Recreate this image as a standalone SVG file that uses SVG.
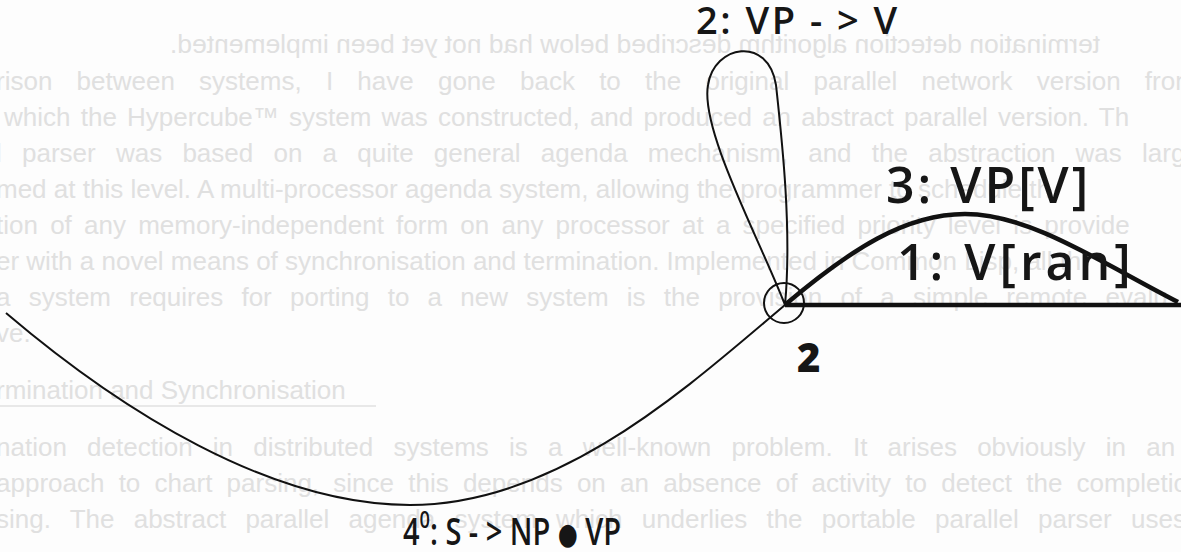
<svg xmlns="http://www.w3.org/2000/svg" width="1181" height="552" viewBox="0 0 1181 552">
<style>
.bg{font-family:"Liberation Sans",Arial,sans-serif;font-size:26px;fill:#e0e0e0}
.lbl{font-family:"Open Sans","Noto Sans",sans-serif;fill:#161616;font-weight:600}
.thin{fill:none;stroke:#111;stroke-width:2}
.thick{fill:none;stroke:#111;stroke-width:4.5;stroke-linejoin:round}
</style>
<rect width="1181" height="552" fill="#fdfdfd"/>
<g id="background-text">
<text class="bg" transform="scale(-1,1)" x="-1100" y="53" textLength="930" lengthAdjust="spacingAndGlyphs">termination detection algorithm described below had not yet been implemented.</text>
<text class="bg" x="-4" y="90" style="word-spacing:17px">rison between systems, I have gone back to the original parallel network version from</text>
<text class="bg" x="4" y="126" style="word-spacing:3px">which the Hypercube™ system was constructed, and produced an abstract parallel version.  Th</text>
<text class="bg" x="-4" y="162" style="word-spacing:13px">l parser was based on a quite general agenda mechanism, and the abstraction was large</text>
<text class="bg" x="-4" y="198">med at this level.  A multi-processor agenda system, allowing the programmer to schedule th</text>
<text class="bg" x="-4" y="234" style="word-spacing:5px">tion of any memory-independent form on any processor at a specified priority level is provide</text>
<text class="bg" x="-4" y="270">er with a novel means of synchronisation and termination.  Implemented in Common Lisp, all th</text>
<text class="bg" x="-4" y="306" style="word-spacing:11px">a system requires for porting to a new system is the provision of a simple remote evalu</text>
<text class="bg" x="-4" y="342">ve.</text>
<text class="bg" x="-4" y="399">rmination and Synchronisation</text>
<line x1="0" y1="406" x2="376" y2="406" stroke="#e0e0e0" stroke-width="1.5"/>
<text class="bg" x="-4" y="456" style="word-spacing:13px">nation detection in distributed systems is a well-known problem.  It arises obviously in an</text>
<text class="bg" x="-4" y="492" style="word-spacing:7px">approach to chart parsing, since this depends on an absence of activity to detect the completio</text>
<text class="bg" x="-4" y="528" style="word-spacing:12px">sing.  The abstract parallel agenda system which underlies the portable parallel parser uses</text>
</g>
<g id="connectors">
<path id="edge-2" class="thin" d="M785 305 C760 240 700 130 708 85 C714 45 768 35 776 85 C782 140 792 230 785 305"/>
<path id="edge-3" class="thick" d="M786 304 C850 250 905 214 965 214 C1030 214 1100 262 1178 302"/>
<path id="edge-1" class="thick" d="M785 305 L1181 305"/>
<path id="edge-4" class="thin" d="M785 305 C690 385 560 505 410 505 C270 505 120 410 6 313"/>
</g>
<g id="node-2">
<circle cx="784" cy="303" r="20" class="thin"/>
<text x="797" y="372" style="font-family:'Open Sans','Noto Sans',sans-serif;font-size:40px;font-weight:800;fill:#161616">2</text>
</g>
<g id="label-2">
<text class="lbl" x="696" y="34" style="font-size:38px;letter-spacing:2.5px">2: VP - &gt; V</text>
</g>
<g id="label-3">
<text class="lbl" x="886" y="203" style="font-size:50px;letter-spacing:3px">3: VP[V]</text>
</g>
<g id="label-1">
<text class="lbl" x="897" y="280" style="font-size:50px;letter-spacing:4px">1: V[ran]</text>
</g>
<g id="label-4">
<text class="lbl" x="403" y="545" style="font-size:38px" textLength="218" lengthAdjust="spacingAndGlyphs">4<tspan dy="-17" style="font-size:24px">0</tspan><tspan dy="17">: S - &gt; NP </tspan><tspan style="font-family:'DejaVu Sans',sans-serif;font-size:30px" dy="-1">●</tspan><tspan dy="1"> VP</tspan></text>
</g>
</svg>
